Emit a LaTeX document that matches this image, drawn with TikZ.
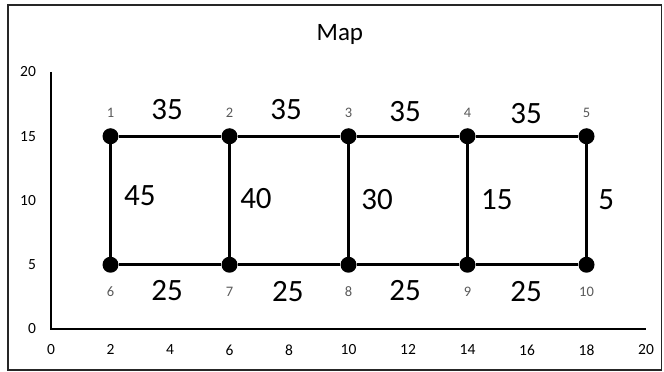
\documentclass[tikz,border=0pt]{standalone}
\usepackage{fontspec}
\setmainfont{Carlito}
\usetikzlibrary{positioning}
\definecolor{mapFrame}{RGB}{38,38,38}
\definecolor{mapGrey}{RGB}{89,89,89}

\begin{document}
\begin{tikzpicture}[x=29.75pt,y=12.85pt,
  stop/.style={circle,fill=black,inner sep=0pt,minimum size=16pt},
  road/.style={line width=3pt},
  stopnum/.style={font=\fontsize{14.5}{16}\selectfont,text=mapGrey,inner sep=0pt},
  dist/.style={font=\fontsize{31}{33}\selectfont,inner sep=0pt},
  ticklbl/.style={font=\fontsize{15.5}{17}\selectfont,inner sep=0pt}]
  \useasboundingbox (-51pt,-43pt) rectangle (613pt,329pt);
  \draw[mapFrame,line width=1.4pt] (-43pt,-41pt) rectangle (610.5pt,324pt);
  \node[font=\fontsize{25}{28}\selectfont,inner sep=0pt] (title) at (9.71,22.88) {Map};
  % axes
  \draw[line width=2.8pt] (0,20)--(0,0)--(20,0);
  \foreach \x in {0,2,...,20} \node[ticklbl] at (\x,-1.63) {\x};
  \foreach \y in {0,5,...,20} \node[ticklbl,anchor=east] at (-0.5,\y) {\y};
  % stops
  \foreach \i/\x in {1/2,2/6,3/10,4/14,5/18}{
    \node[stop] (n\i) at (\x,15) {};
    \node[stopnum] (l\i) at (\x,16.8) {\i};
  }
  \foreach \i/\x in {6/2,7/6,8/10,9/14,10/18}{
    \node[stop] (n\i) at (\x,5) {};
    \node[stopnum] (l\i) at (\x,2.9) {\i};
  }
  \foreach \a/\b in {1/2,2/3,3/4,4/5,6/7,7/8,8/9,9/10,1/6,2/7,3/8,4/9,5/10}
    \draw[road] (n\a)--(n\b);
  % distances
  \node[dist] (d12) at (3.9,17.04) {35};
  \node[dist] (d23) at (7.9,17.04) {35};
  \node[dist] (d34) at (11.9,16.95) {35};
  \node[dist] (d45) at (15.97,16.8) {35};
  \node[dist] (d16) at (2.99,10.35) {45};
  \node[dist] (d27) at (6.89,10.12) {40};
  \node[dist] (d38) at (10.96,10.04) {30};
  \node[dist] (d49) at (14.99,10.04) {15};
  \node[dist] (d510) at (18.66,10.04) {5};
  \node[dist] (d67) at (3.9,3.03) {25};
  \node[dist] (d78) at (7.96,2.95) {25};
  \node[dist] (d89) at (11.9,3.03) {25};
  \node[dist] (d910) at (15.97,2.9) {25};
\end{tikzpicture}
\end{document}
